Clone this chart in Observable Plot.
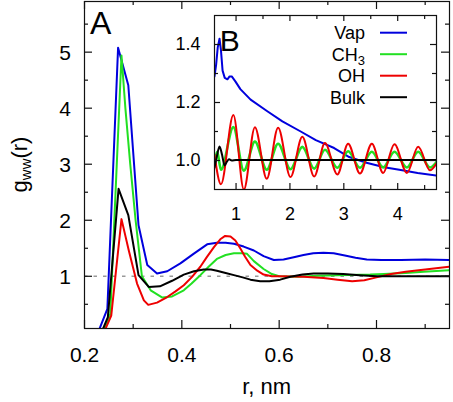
<!DOCTYPE html>
<html><head><meta charset="utf-8">
<script src="https://cdn.jsdelivr.net/npm/d3@7"></script>
<script src="https://cdn.jsdelivr.net/npm/@observablehq/plot@0.6"></script>
<style>
body{margin:0;background:#fff;}
#wrap{position:relative;width:453px;height:402px;}
#wrap svg{position:absolute;}
</style></head><body><div id="wrap"></div>
<script>
// ---- series ----
const seriesNames = ["Vap", "CH3", "OH", "Bulk"];
const seriesColors = ["#0000dd", "#22e022", "#ee0000", "#000000"];

// ---- main panel A: g_ww(r) vs r (nm) ----
const vapR = [0.228,0.247,0.269,0.290,0.311,0.329,0.349,0.370,0.397,0.424,0.452,0.472,0.490,0.507,0.527,0.548,0.568,0.589,0.609,0.630,0.650,0.670,0.691,0.712,0.735,0.757,0.780,0.81,0.85,0.90,0.951];
const vapG = [0.0,0.42,5.08,4.41,1.91,1.20,1.05,1.09,1.23,1.40,1.57,1.60,1.60,1.58,1.53,1.46,1.36,1.29,1.30,1.34,1.38,1.41,1.42,1.41,1.37,1.33,1.30,1.29,1.29,1.30,1.29];

const ch3R = [0.238,0.253,0.276,0.284,0.294,0.305,0.318,0.336,0.36,0.38,0.404,0.42,0.438,0.455,0.472,0.49,0.507,0.524,0.534,0.548,0.568,0.585,0.60,0.64,0.68,0.72,0.787,0.815,0.86,0.897,0.951];
const ch3G = [0.0,0.33,4.94,4.0,3.0,2.0,1.0,0.75,0.62,0.64,0.75,0.87,1.02,1.17,1.31,1.38,1.41,1.41,1.40,1.27,1.13,1.04,1.0,0.99,1.01,1.02,1.03,1.04,1.06,1.08,1.11];

const ohR = [0.240,0.255,0.276,0.291,0.308,0.322,0.331,0.349,0.370,0.387,0.404,0.421,0.438,0.452,0.466,0.479,0.489,0.500,0.510,0.520,0.530,0.541,0.555,0.568,0.585,0.602,0.65,0.691,0.72,0.75,0.775,0.80,0.83,0.86,0.90,0.951];
const ohG = [0.0,0.30,2.02,1.46,0.87,0.57,0.49,0.53,0.63,0.73,0.84,0.99,1.17,1.35,1.52,1.66,1.72,1.71,1.64,1.50,1.35,1.20,1.10,1.03,1.0,1.0,0.99,0.97,0.94,0.91,0.93,0.98,1.04,1.08,1.12,1.17];

const bulkR = [0.235,0.248,0.270,0.290,0.311,0.332,0.355,0.380,0.404,0.425,0.445,0.460,0.472,0.490,0.507,0.525,0.541,0.561,0.580,0.602,0.623,0.648,0.671,0.70,0.732,0.765,0.801,0.85,0.951];
const bulkG = [0.0,0.27,2.56,2.09,1.02,0.81,0.82,0.92,1.03,1.09,1.12,1.12,1.10,1.06,1.02,0.98,0.94,0.91,0.91,0.94,0.99,1.03,1.05,1.05,1.04,1.02,1.0,1.0,1.0];

// ---- inset B ----
const inVapX = [0.60,0.63,0.66,0.693,0.72,0.75,0.79,0.84,0.88,0.92,0.99,1.08,1.27,1.58,1.86,2.2,2.48,2.82,3.1,3.42,3.75,4.03,4.37,4.72];
const inVapY = [1.29,1.33,1.39,1.42,1.38,1.31,1.285,1.28,1.29,1.29,1.272,1.246,1.21,1.17,1.135,1.10,1.07,1.043,1.012,0.992,0.977,0.968,0.957,0.948];

const inOhX = [0.60,0.72,0.95,1.145,1.35,1.57,1.78,2.01,2.23,2.45,2.65,2.88,3.08,3.30,3.52,3.73,3.94,4.17,4.38,4.60,4.72];
const inOhY = [1.02,0.918,1.157,0.90,1.115,0.937,1.113,0.943,1.082,0.945,1.06,0.952,1.058,0.955,1.058,0.957,1.056,0.957,1.047,0.966,0.99];

const inCh3X = [0.60,0.65,0.72,0.95,1.145,1.35,1.57,1.78,2.01,2.23,2.45,2.65,2.88,3.08,3.30,3.52,3.73,3.94,4.17,4.38,4.60,4.72];
const inCh3Y = [0.99,1.03,0.968,1.115,0.965,1.065,0.968,1.058,0.97,1.047,0.972,1.037,0.975,1.032,0.975,1.03,0.976,1.03,0.976,1.03,0.976,0.995];

const inBulkX = [0.60,0.64,0.693,0.74,0.786,0.83,0.87,0.92,1.0,4.72];
const inBulkY = [0.975,1.01,1.048,1.02,0.983,0.996,1.004,1.0,1.002,1.002];

// ---- ticks ----
const mainXMajor = [0.2,0.4,0.6,0.8], mainXMinor = [0.3,0.5,0.7,0.9];
const mainYMajor = [1,2,3,4,5], mainYMinor = [0.5,1.5,2.5,3.5,4.5,5.5];
const inXMajor = [1,2,3,4], inXMinor = [1.5,2.5,3.5,4.5];
const inYMajor = [1.0,1.2,1.4], inYMinor = [1.1,1.3];

const FONT = '"Liberation Sans", Arial, Helvetica, sans-serif';
const zipRows = (xs, ys) => xs.map((x, i) => ({x, y: ys[i]}));

const mainData = [zipRows(vapR, vapG), zipRows(ch3R, ch3G), zipRows(ohR, ohG), zipRows(bulkR, bulkG)];
const insetData = [zipRows(inVapX, inVapY), zipRows(inCh3X, inCh3Y), zipRows(inOhX, inOhY), zipRows(inBulkX, inBulkY)];

function frameTicks(innerW, innerH, xMaj, xMin, yMaj, yMin, lMaj, lMin) {
  const o = {stroke: "#111", strokeWidth: 1.2};
  return [
    Plot.tickX(xMaj, {x: d => d, insetTop: innerH - lMaj, ...o}),
    Plot.tickX(xMaj, {x: d => d, insetBottom: innerH - lMaj, ...o}),
    Plot.tickX(xMin, {x: d => d, insetTop: innerH - lMin, ...o}),
    Plot.tickX(xMin, {x: d => d, insetBottom: innerH - lMin, ...o}),
    Plot.tickY(yMaj, {y: d => d, insetRight: innerW - lMaj, ...o}),
    Plot.tickY(yMaj, {y: d => d, insetLeft: innerW - lMaj, ...o}),
    Plot.tickY(yMin, {y: d => d, insetRight: innerW - lMin, ...o}),
    Plot.tickY(yMin, {y: d => d, insetLeft: innerW - lMin, ...o})
  ];
}

// ---- main plot ----
const W = 453, H = 402, mL = 84, mR = 4, mT = 1, mB = 74;
const mainSvg = Plot.plot({
  width: W, height: H, marginLeft: mL, marginRight: mR, marginTop: mT, marginBottom: mB,
  style: {fontFamily: FONT, background: "transparent", color: "#000"},
  x: {domain: [0.2, 0.95]},
  y: {domain: [0.068, 5.904]},
  marks: [
    Plot.ruleY([1], {stroke: "#999", strokeWidth: 1.5, strokeDasharray: "3.5,6"}),
    ...mainData.map((d, i) => Plot.line(d, {x: "x", y: "y", stroke: seriesColors[i], strokeWidth: 2, clip: true})),
    Plot.frame({stroke: "#111", strokeWidth: 1.2}),
    ...frameTicks(W - mL - mR, H - mT - mB, mainXMajor, mainXMinor, mainYMajor, mainYMinor, 8, 4),
    Plot.axisX(mainXMajor, {tickSize: 0, tickPadding: 18.5, fontSize: 21, label: null, tickFormat: d => d.toFixed(1)}),
    Plot.axisY(mainYMajor, {tickSize: 0, tickPadding: 13.5, fontSize: 21, label: null, dy: 1, tickFormat: d => String(d)}),
    Plot.text(["A"], {frameAnchor: "top-left", dx: 5.5, dy: 9.6, lineAnchor: "top", textAnchor: "start", fontSize: 32})
  ]
});
mainSvg.style.left = "0px"; mainSvg.style.top = "0px";
document.getElementById("wrap").appendChild(mainSvg);

const ms = d3.select(mainSvg);
const yl = ms.append("text").attr("transform", "translate(27,164.5) rotate(-90)")
  .attr("text-anchor", "middle").attr("font-size", 22).attr("font-family", FONT).attr("fill", "#000");
yl.append("tspan").text("g");
yl.append("tspan").attr("font-size", 15).attr("dy", 4).text("ww");
yl.append("tspan").attr("dy", -4).text("(r)");
ms.append("text").attr("x", 266.7).attr("y", 394).attr("text-anchor", "middle")
  .attr("font-size", 22).attr("font-family", FONT).attr("fill", "#000").text("r, nm");

// ---- inset plot ----
const iL = 45, iR = 2, iT = 2, iB = 40, iW = 222, iH = 174;
const insetSvg = Plot.plot({
  width: iL + iW + iR, height: iT + iH + iB, marginLeft: iL, marginRight: iR, marginTop: iT, marginBottom: iB,
  style: {fontFamily: FONT, background: "transparent", color: "#000"},
  x: {domain: [0.6, 4.72]},
  y: {domain: [0.9, 1.5]},
  marks: [
    Plot.frame({fill: "white"}),
    ...insetData.map((d, i) => Plot.line(d, {x: "x", y: "y", stroke: seriesColors[i],
      strokeWidth: i === 1 ? 2.6 : 2, curve: i === 0 ? "linear" : "monotone-x", clip: true})),
    Plot.frame({stroke: "#111", strokeWidth: 1.2}),
    ...frameTicks(iW, iH, inXMajor, inXMinor, inYMajor, inYMinor, 6, 4),
    Plot.axisX(inXMajor, {tickSize: 0, tickPadding: 18, fontSize: 18, label: null}),
    Plot.axisY(inYMajor, {tickSize: 0, tickPadding: 14, fontSize: 18, label: null, tickFormat: d => d.toFixed(1)}),
    Plot.text(["B"], {frameAnchor: "top-left", dx: 5.3, dy: 13.7, lineAnchor: "top", textAnchor: "start", fontSize: 30})
  ]
});
insetSvg.style.left = (214 - iL) + "px"; insetSvg.style.top = (15 - iT) + "px";
document.getElementById("wrap").appendChild(insetSvg);

// legend inside inset
const is = d3.select(insetSvg);
const lx0 = 380 - (214 - iL), lx1 = 407 - (214 - iL), tx = 365 - (214 - iL);
seriesNames.forEach((name, i) => {
  const ly = 32.7 - (15 - iT) + i * 21.5;
  is.append("line").attr("x1", lx0).attr("x2", lx1).attr("y1", ly).attr("y2", ly)
    .attr("stroke", seriesColors[i]).attr("stroke-width", 2);
  const t = is.append("text").attr("x", tx).attr("y", ly + 6.5).attr("text-anchor", "end")
    .attr("font-size", 18).attr("font-family", FONT).attr("fill", "#000");
  if (name === "CH3") {
    t.append("tspan").text("CH");
    t.append("tspan").attr("font-size", 13).attr("dy", 4).text("3");
  } else {
    t.text(name);
  }
});
</script>
</body></html>
